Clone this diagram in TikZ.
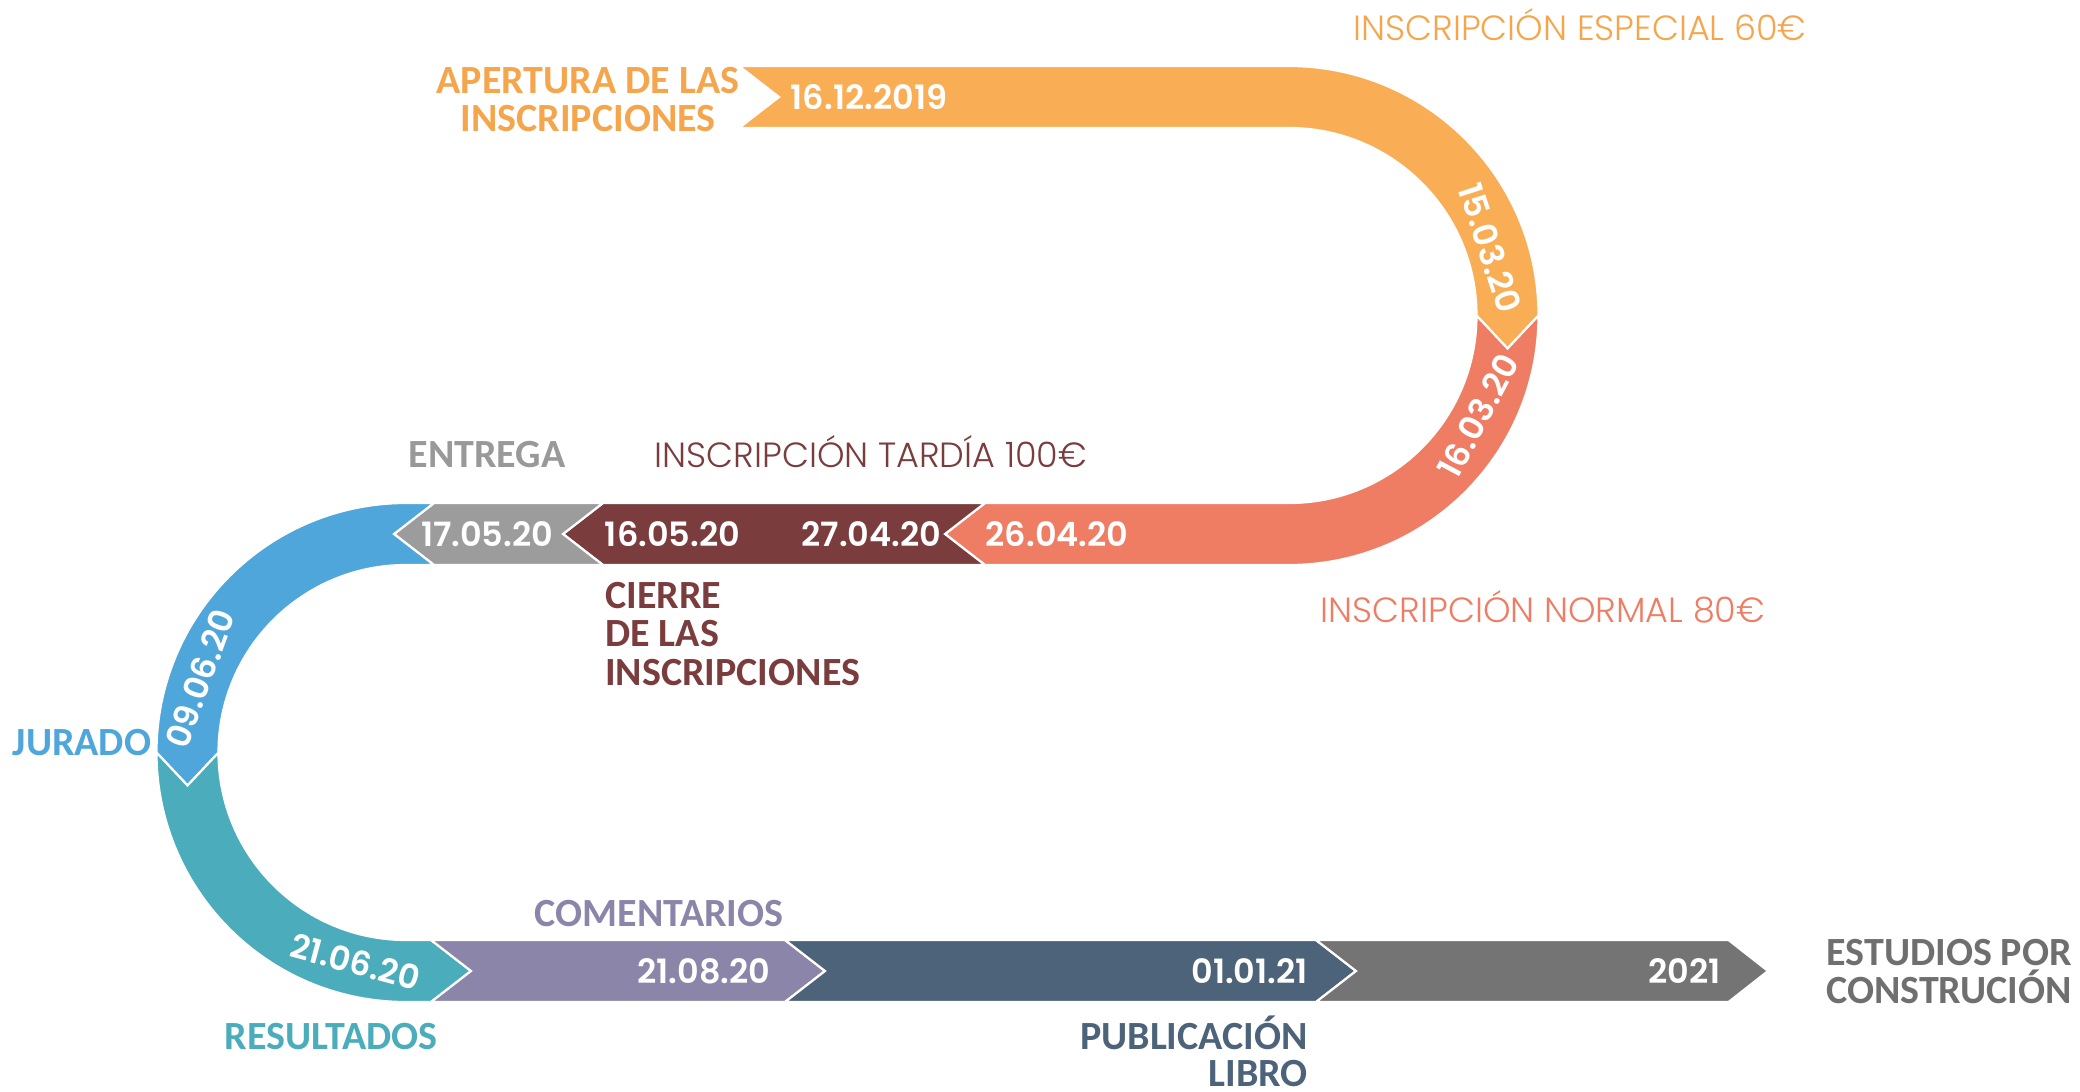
\documentclass[tikz,border=0pt]{standalone}
\usepackage{fontspec}
\setmainfont{Carlito}
\newfontfamily\datefont{Poppins SemiBold}
\newfontfamily\lightfont{Poppins Light}
\definecolor{cOrange}{HTML}{F9AE56}
\definecolor{tOrange}{HTML}{F5A64C}
\definecolor{cCoral}{HTML}{EE7D64}
\definecolor{cMaroon}{HTML}{7A3C3C}
\definecolor{cGray}{HTML}{9C9C9C}
\definecolor{tGray}{HTML}{999999}
\definecolor{cBlue}{HTML}{4FA6DA}
\definecolor{cTeal}{HTML}{4BACBB}
\definecolor{cPurple}{HTML}{8B86A9}
\definecolor{cSlate}{HTML}{4D6379}
\definecolor{cDark}{HTML}{747474}
\definecolor{tDark}{HTML}{6F6F6F}
\tikzset{
  seg/.style={fill=#1, draw=white, line width=2.2pt, line join=miter},
  date/.style={text=white, inner sep=0pt, font=\datefont\fontsize{33.5}{33.5}\selectfont},
  lbl/.style={text=#1, inner sep=0pt, font=\bfseries\fontsize{40}{40}\selectfont},
  light/.style={text=#1, inner sep=0pt, font=\lightfont\fontsize{35}{35}\selectfont}
}
\begin{document}
\begin{tikzpicture}[x=1pt,y=1pt]
\useasboundingbox (0,0) rectangle (2080,-1092);
\fill[white] (0,0) rectangle (2080,-1092);
% top band (orange)
\path[seg=cOrange] (739,-66) -- (1289,-66) arc[start angle=90,end angle=0,radius=249.5]
  -- (1507.5,-348.5) -- (1476.5,-315.5) arc[start angle=0,end angle=90,radius=187.5]
  -- (739,-128) -- (779,-97) -- cycle;
% coral
\path[seg=cCoral] (1538.5,-315.5) arc[start angle=0,end angle=-90,radius=249.5]
  -- (985,-565) -- (945,-534) -- (985,-503) -- (1289,-503)
  arc[start angle=-90,end angle=0,radius=187.5] -- (1507.5,-348.5) -- cycle;
% maroon
\path[seg=cMaroon] (985,-565) -- (603,-565) -- (563,-534) -- (603,-503) -- (985,-503) -- (945,-534) -- cycle;
% gray
\path[seg=cGray] (603,-565) -- (434,-565) -- (394,-534) -- (434,-503) -- (603,-503) -- (563,-534) -- cycle;
% blue
\path[seg=cBlue] (434,-503) -- (406,-503) arc[start angle=90,end angle=180,radius=249.5]
  -- (187.5,-785.5) -- (218.5,-752.5) arc[start angle=180,end angle=90,radius=187.5]
  -- (434,-565) -- (394,-534) -- cycle;
% teal
\path[seg=cTeal] (156.5,-752.5) arc[start angle=180,end angle=270,radius=249.5]
  -- (431,-1002) -- (471,-971) -- (431,-940) -- (406,-940)
  arc[start angle=270,end angle=180,radius=187.5] -- (187.5,-785.5) -- cycle;
% purple
\path[seg=cPurple] (431,-940) -- (785,-940) -- (825,-971) -- (785,-1002) -- (431,-1002) -- (471,-971) -- cycle;
% slate
\path[seg=cSlate] (785,-940) -- (1316,-940) -- (1356,-971) -- (1316,-1002) -- (785,-1002) -- (825,-971) -- cycle;
% dark gray
\path[seg=cDark] (1316,-940) -- (1728.5,-940) -- (1768,-971) -- (1728.5,-1002) -- (1316,-1002) -- (1356,-971) -- cycle;

% dates
\node[date] (d1) at (869,-97) {16.12.2019};
\node[date, rotate=-72] (d2) at (1490,-248) {15.03.20};
\node[date, rotate=62] (d3) at (1478,-416) {16.03.20};
\node[date] (d4) at (1057,-534) {26.04.20};
\node[date] (d5) at (871.5,-534) {27.04.20};
\node[date] (d6) at (672.5,-534) {16.05.20};
\node[date] (d7) at (487,-534) {17.05.20};
\node[date, rotate=70] (d8) at (200,-679) {09.06.20};
\node[date, rotate=-15] (d9) at (355.5,-962) {21.06.20};
\node[date] (d10) at (704,-971) {21.08.20};
\node[date] (d11) at (1249.6,-971) {01.01.21};
\node[date] (d12) at (1684.6,-971) {2021};

% light labels
\node[light=tOrange, anchor=base] (l1) at (1580,-40.5) {INSCRIPCIÓN ESPECIAL 60€};
\node[light=cMaroon, anchor=base] (l2) at (871,-467) {INSCRIPCIÓN TARDÍA 100€};
\node[light=cCoral, anchor=base] (l3) at (1543,-622) {INSCRIPCIÓN NORMAL 80€};

% bold labels
\node[lbl=tOrange, anchor=base] (a1) at (588,-93.5) {APERTURA DE LAS};
\node[lbl=tOrange, anchor=base] (a2) at (588,-131.5) {INSCRIPCIONES};
\node[lbl=tGray, anchor=base] (e1) at (487,-467.5) {ENTREGA};
\node[lbl=cMaroon, anchor=base west] (c1) at (605,-608) {CIERRE};
\node[lbl=cMaroon, anchor=base west] (c2) at (605,-646.5) {DE LAS};
\node[lbl=cMaroon, anchor=base west] (c3) at (605,-685) {INSCRIPCIONES};
\node[lbl=cBlue, anchor=base] (j1) at (82,-755.5) {JURADO};
\node[lbl=cTeal, anchor=base] (r1) at (331,-1049.5) {RESULTADOS};
\node[lbl=cPurple, anchor=base] (m1) at (659,-926.5) {COMENTARIOS};
\node[lbl=cSlate, anchor=base east] (p1) at (1308,-1049) {PUBLICACIÓN};
\node[lbl=cSlate, anchor=base east] (p2) at (1308,-1086.5) {LIBRO};
\node[lbl=tDark, anchor=base east] (s1) at (2072,-965) {ESTUDIOS POR};
\node[lbl=tDark, anchor=base east] (s2) at (2072,-1003.5) {CONSTRUCIÓN};
\end{tikzpicture}
\end{document}
